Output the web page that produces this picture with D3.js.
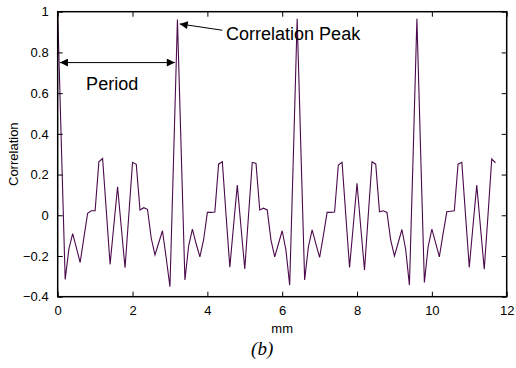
<!DOCTYPE html>
<html>
<head>
<meta charset="utf-8">
<script src="https://cdn.jsdelivr.net/npm/d3@7"></script>
<style>
  body { margin: 0; background: #fff; }
  .d3-chart text { font-family: Arial, "Liberation Sans", Helvetica, sans-serif; fill: #000; }
  .d3-chart .caption { font-family: "Times New Roman", "Liberation Serif", serif; font-style: italic; }
</style>
</head>
<body>
<div class="d3-chart" id="chart"></div>
<script>
// sample positions (mm) and correlation values
const mm = [
  0.0, 0.1, 0.2, 0.3, 0.4, 0.5, 0.6, 0.7, 0.8, 0.9,
  1.0, 1.1, 1.2, 1.3, 1.4, 1.5, 1.6, 1.7, 1.8, 1.9,
  2.0, 2.1, 2.2, 2.3, 2.4, 2.5, 2.6, 2.7, 2.8, 2.9,
  3.0, 3.1, 3.2, 3.3, 3.4, 3.5, 3.6, 3.7, 3.8, 3.9,
  4.0, 4.1, 4.2, 4.3, 4.4, 4.5, 4.6, 4.7, 4.8, 4.9,
  5.0, 5.1, 5.2, 5.3, 5.4, 5.5, 5.6, 5.7, 5.8, 5.9,
  6.0, 6.1, 6.2, 6.3, 6.4, 6.5, 6.6, 6.7, 6.8, 6.9,
  7.0, 7.1, 7.2, 7.3, 7.4, 7.5, 7.6, 7.7, 7.8, 7.9,
  8.0, 8.1, 8.2, 8.3, 8.4, 8.5, 8.6, 8.7, 8.8, 8.9,
  9.0, 9.1, 9.2, 9.3, 9.4, 9.5, 9.6, 9.7, 9.8, 9.9,
  10.0, 10.1, 10.2, 10.3, 10.4, 10.5, 10.6, 10.7, 10.8, 10.9,
  11.0, 11.1, 11.2, 11.3, 11.4, 11.5, 11.6, 11.7
];
const correlation = [
  1.0, 0.33, -0.315, -0.165, -0.09, -0.16, -0.232, -0.11, 0.01, 0.022,
  0.022, 0.263, 0.279, 0.02, -0.241, -0.05, 0.14, -0.06, -0.258, 0.0,
  0.26, 0.25, 0.026, 0.037, 0.029, -0.113, -0.195, -0.135, -0.076, -0.21,
  -0.351, 0.3, 0.962, 0.32, -0.318, -0.15, -0.068, -0.14, -0.204, -0.12,
  0.014, 0.014, 0.016, 0.251, 0.263, 0.0, -0.255, -0.05, 0.148, -0.06,
  -0.264, 0.0, 0.26, 0.255, 0.026, 0.035, 0.026, -0.122, -0.204, -0.14,
  -0.076, -0.171, -0.343, 0.3, 0.965, 0.32, -0.318, -0.155, -0.072, -0.14,
  -0.207, -0.1, 0.014, 0.014, 0.016, 0.247, 0.26, 0.0, -0.256, -0.05,
  0.157, -0.06, -0.269, 0.0, 0.263, 0.251, 0.017, 0.022, 0.014, -0.122,
  -0.2, -0.135, -0.07, -0.168, -0.343, 0.3, 0.965, 0.31, -0.33, -0.155,
  -0.068, -0.136, -0.204, -0.09, 0.017, 0.02, 0.022, 0.251, 0.26, 0.0,
  -0.256, -0.05, 0.148, -0.06, -0.265, 0.0, 0.276, 0.258
];
const xTicks = [0, 2, 4, 6, 8, 10, 12];
const yTicks = [-0.4, -0.2, 0, 0.2, 0.4, 0.6, 0.8, 1];

const data = mm.map((d, i) => ({ x: d, y: correlation[i] }));

const W = 516, H = 368;
const margin = { top: 11.7, right: 9.3, bottom: 71.3, left: 57.7 };
const width = W - margin.left - margin.right;
const height = H - margin.top - margin.bottom;

const svg = d3.select('#chart')
  .append('svg')
    .attr('width', W)
    .attr('height', H)
  .append('g')
    .attr('transform', 'translate(' + margin.left + ',' + margin.top + ')');

const x = d3.scaleLinear().domain([0, 12]).range([0, width]);
const y = d3.scaleLinear().domain([-0.4, 1]).range([height, 0]);

// the data line
svg.append('path')
  .datum(data)
  .attr('fill', 'none')
  .attr('stroke', '#4b0a4b')
  .attr('stroke-width', 1.1)
  .attr('d', d3.line().x(d => x(d.x)).y(d => y(d.y)));

// matlab style box with inward ticks on all four sides
const fmt = d => d3.format('')(+d.toFixed(1));
const tick = 5;
function styleAxis(g) {
  g.selectAll('.domain').remove();
  g.selectAll('.tick line').attr('stroke', '#000');
  g.selectAll('.tick text').attr('font-size', 13);
}
svg.append('g')
  .attr('transform', 'translate(0,' + height + ')')
  .call(d3.axisBottom(x).tickValues(xTicks).tickFormat(fmt).tickSizeInner(-tick).tickSizeOuter(0).tickPadding(9))
  .call(styleAxis);
svg.append('g')
  .call(d3.axisTop(x).tickValues(xTicks).tickSizeInner(-tick).tickSizeOuter(0).tickFormat(''))
  .call(styleAxis);
svg.append('g')
  .call(d3.axisLeft(y).tickValues(yTicks).tickFormat(fmt).tickSizeInner(-tick).tickSizeOuter(0).tickPadding(9))
  .call(styleAxis);
svg.append('g')
  .attr('transform', 'translate(' + width + ',0)')
  .call(d3.axisRight(y).tickValues(yTicks).tickSizeInner(-tick).tickSizeOuter(0).tickFormat(''))
  .call(styleAxis);

svg.append('rect')
  .attr('width', width)
  .attr('height', height)
  .attr('fill', 'none')
  .attr('stroke', '#000')
  .attr('stroke-width', 1.5);

// axis titles
svg.append('text')
  .attr('x', width / 2)
  .attr('y', height + 36)
  .attr('text-anchor', 'middle')
  .attr('font-size', 13)
  .text('mm');
svg.append('text')
  .attr('transform', 'translate(' + (-40) + ',' + (height / 2) + ') rotate(-90)')
  .attr('text-anchor', 'middle')
  .attr('font-size', 13)
  .text('Correlation');
svg.append('text')
  .attr('class', 'caption')
  .attr('x', width / 2 - 20)
  .attr('y', height + 58)
  .attr('text-anchor', 'middle')
  .attr('font-size', 19)
  .text('(b)');

// annotations
const defs = svg.append('defs');
defs.append('marker')
  .attr('id', 'head')
  .attr('viewBox', '0 0 10 10')
  .attr('refX', 10).attr('refY', 5)
  .attr('markerWidth', 10).attr('markerHeight', 8)
  .attr('markerUnits', 'userSpaceOnUse')
  .attr('orient', 'auto-start-reverse')
  .append('path')
    .attr('d', 'M0,0L10,5L0,10z')
    .attr('fill', '#000');

svg.append('line')
  .attr('x1', x(0.06)).attr('y1', y(0.75))
  .attr('x2', x(3.13)).attr('y2', y(0.75))
  .attr('stroke', '#000')
  .attr('marker-start', 'url(#head)')
  .attr('marker-end', 'url(#head)');
svg.append('text')
  .attr('x', x(0.76))
  .attr('y', y(0.615))
  .attr('font-size', 18)
  .text('Period');

svg.append('line')
  .attr('x1', x(4.4)).attr('y1', y(0.909))
  .attr('x2', x(3.26)).attr('y2', y(0.94))
  .attr('stroke', '#000')
  .attr('marker-end', 'url(#head)');
svg.append('text')
  .attr('x', x(4.5))
  .attr('y', y(0.86))
  .attr('font-size', 18)
  .text('Correlation Peak');
</script>
</body>
</html>
